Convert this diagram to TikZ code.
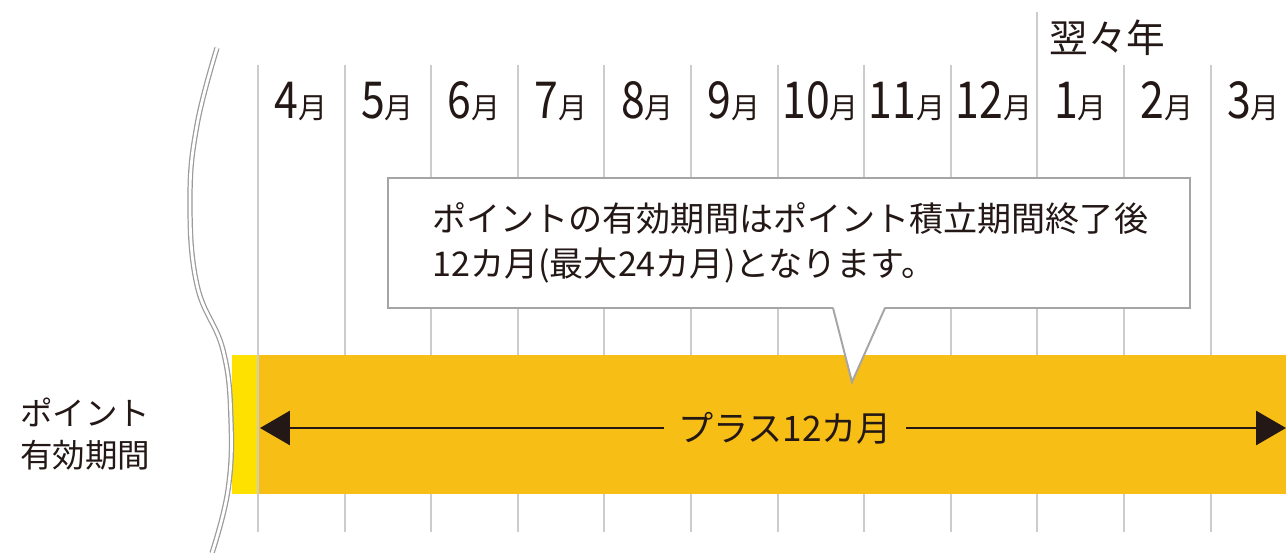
\documentclass[tikz,border=0pt]{standalone}
\usepackage{fontspec}
\setmainfont{Noto Sans CJK JP}
\usetikzlibrary{arrows.meta}
\definecolor{ink}{HTML}{231815}
\definecolor{barorange}{HTML}{F7BE16}
\definecolor{baryellow}{HTML}{FFE100}
\definecolor{gridgray}{HTML}{CCCCCC}
\definecolor{boxgray}{HTML}{A5A5A5}
\definecolor{wavegray}{HTML}{9A9A9A}

\tikzset{
  gridline/.style={draw,gridgray,line width=1.1pt},
  monthlabel/.style={text=ink,inner sep=0pt},
  callbox/.style={draw=boxgray,fill=white,line width=1.1pt,minimum width=16.04cm,minimum height=2.6cm},
  spanarrow/.style={draw=ink,line width=1.7pt,-{Triangle[length=0.6cm,width=0.68cm]}},
}

\begin{document}
\begin{tikzpicture}[x=0.02cm,y=-0.02cm]
  \useasboundingbox (0,0) rectangle (1286,553);
  % month columns
  \foreach \i in {0,...,11}
    \path[gridline] (258+86.6*\i,65)--(258+86.6*\i,532);
  \path[gridline] (1037.4,12)--(1037.4,65);
  \node[monthlabel,anchor=west,font=\fontsize{22}{22}\selectfont] (nextyear) at (1049,38) {翌々年};
  \foreach \m [count=\i from 0] in {4,5,6,7,8,9,10,11,12,1,2,3}
    \node[monthlabel,anchor=base] (m\i) at (301+86.6*\i,119)
      {\scalebox{0.84}[1]{\fontsize{29}{29}\selectfont\m}\fontsize{16.5}{16.5}\selectfont 月};
  % bar
  \path[fill=baryellow] (232,355) rectangle (258,494);
  \path[fill=barorange] (258,355) rectangle (1286,494);
  \path[gridline] (258,355)--(258,494);
  % broken edge
  \path[draw=wavegray,double=white,line width=0.7pt,double distance=1.6pt]
    plot[smooth,tension=0.7] coordinates {(217,48) (197,125) (190,200) (197,285) (223,350) (231,420) (228,490) (212,553)};
  % callout
  \node[callbox] (note) at (789,243) {};
  \path[fill=white] (833,306)--(852,382)--(885,306)--cycle;
  \path[draw=boxgray,line width=1.1pt] (833,308)--(852,382)--(885,308);
  \node[anchor=west,align=left,text=ink,inner sep=0pt,font=\fontsize{19.4}{25.5}\selectfont] (notetext) at (432,243)
    {ポイントの有効期間はポイント積立期間終了後\\12カ月(最大24カ月)となります。};
  % span
  \coordinate (barL) at (260,428);
  \coordinate (barR) at (1286,428);
  \node[fill=barorange,text=ink,inner xsep=8pt,inner ysep=2pt,font=\fontsize{20}{20}\selectfont] (plus) at (785,428) {プラス12カ月};
  \path[spanarrow] (plus) -- (barL);
  \path[spanarrow] (plus) -- (barR);
  % row label
  \node[anchor=west,align=left,text=ink,inner sep=0pt,font=\fontsize{18.5}{23.8}\selectfont] (rowlabel) at (20,434) {ポイント\\有効期間};
\end{tikzpicture}
\end{document}
